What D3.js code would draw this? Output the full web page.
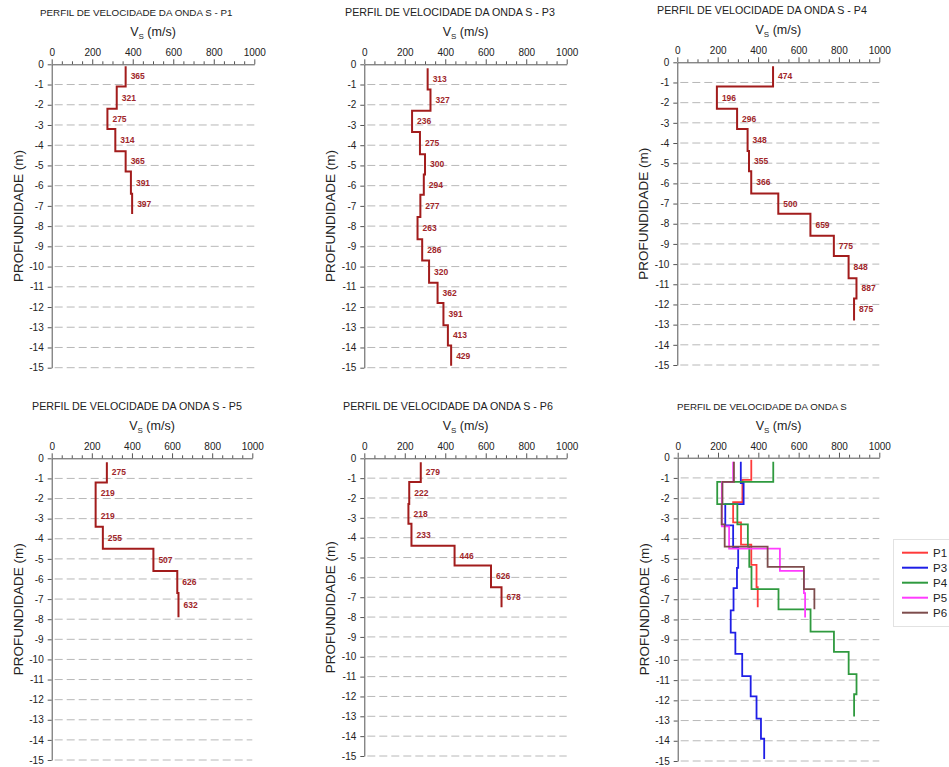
<!DOCTYPE html>
<html>
<head>
<meta charset="utf-8">
<script src="https://cdn.jsdelivr.net/npm/d3@7"></script>
<style>
  body { margin: 0; background: #fff; }
  svg { font-family: "Liberation Sans", Arial, sans-serif; }
</style>
</head>
<body>
<div id="chart"></div>
<script>
// profile data: layer boundaries (m, positive down) and Vs (m/s) per layer
var depthP1 = [0.1, 1.1, 2.2, 3.2, 4.3, 5.3, 6.4, 7.4];
var vsP1 = [365, 321, 275, 314, 365, 391, 397];

var depthP3 = [0.2, 1.25, 2.3, 3.35, 4.45, 5.45, 6.45, 7.55, 8.65, 9.7, 10.8, 11.8, 12.9, 13.9, 14.9];
var vsP3 = [313, 327, 236, 275, 300, 294, 277, 263, 286, 320, 362, 391, 413, 429];

var depthP4 = [0.2, 1.2, 2.3, 3.3, 4.4, 5.4, 6.5, 7.5, 8.6, 9.6, 10.7, 11.7, 12.8];
var vsP4 = [474, 196, 296, 348, 355, 366, 500, 659, 775, 848, 887, 875];

var depthP5 = [0.2, 1.2, 2.3, 3.4, 4.5, 5.6, 6.7, 7.9];
var vsP5 = [275, 219, 219, 255, 507, 626, 632];

var depthP6 = [0.2, 1.2, 2.3, 3.3, 4.4, 5.4, 6.5, 7.5];
var vsP6 = [279, 222, 218, 233, 446, 626, 678];

var profileNames = ["P1", "P3", "P4", "P5", "P6"];
var xTicks = [0, 200, 400, 600, 800, 1000];
var depthTicks = d3.range(0, 16);

var profiles = {
  P1: { depth: depthP1, vs: vsP1 },
  P3: { depth: depthP3, vs: vsP3 },
  P4: { depth: depthP4, vs: vsP4 },
  P5: { depth: depthP5, vs: vsP5 },
  P6: { depth: depthP6, vs: vsP6 }
};

var comboColors = { P1: "#ff3a3a", P3: "#1e1ee6", P4: "#2f9a3f", P5: "#ff3cff", P6: "#7d4c4c" };

// panel layout
var panels = [
  { key: "P1", title: "PERFIL DE VELOCIDADE DA ONDA S - P1", tx: 40, fs: 9.8, x0: 51.7, x1: 254.3, y0: 64.3, y1: 367.7 },
  { key: "P3", title: "PERFIL DE VELOCIDADE DA ONDA S - P3", tx: 345, fs: 10.7, x0: 364.3, x1: 566.7, y0: 64.3, y1: 367.7 },
  { key: "P4", title: "PERFIL DE VELOCIDADE DA ONDA S - P4", tx: 657, fs: 10.7, x0: 677.3, x1: 879.3, y0: 62.3, y1: 365 },
  { key: "P5", title: "PERFIL DE VELOCIDADE DA ONDA S - P5", tx: 32, fs: 10.7, x0: 51.7, x1: 252.3, y0: 458.3, y1: 760 },
  { key: "P6", title: "PERFIL DE VELOCIDADE DA ONDA S - P6", tx: 343, fs: 10.7, x0: 364.3, x1: 566.7, y0: 458.3, y1: 756 },
  { key: "ALL", title: "PERFIL DE VELOCIDADE DA ONDA S", tx: 677, fs: 9.7, x0: 677.7, x1: 879.3, y0: 457.7, y1: 761 }
];

var svg = d3.select("#chart")
  .append("svg")
  .attr("width", 949)
  .attr("height", 767);

function stepPoints(p) {
  var pts = p.vs.map(function(v, i) { return [v, p.depth[i]]; });
  pts.push([p.vs[p.vs.length - 1], p.depth[p.depth.length - 1]]);
  return pts;
}

panels.forEach(function(pn) {
  var x = d3.scaleLinear().domain([0, 1000]).range([pn.x0, pn.x1]);
  var y = d3.scaleLinear().domain([0, 15]).range([pn.y0, pn.y1]);
  var g = svg.append("g");

  // dashed gridlines
  g.append("g").selectAll("line")
    .data(depthTicks.slice(1))
    .enter().append("line")
    .attr("x1", x(0) + 3)
    .attr("x2", x(1000))
    .attr("y1", d => y(d))
    .attr("y2", d => y(d))
    .attr("stroke", "#b8b8b8")
    .attr("stroke-width", 1)
    .attr("stroke-dasharray", "8,4");

  // top axis, major + minor ticks
  g.append("g")
    .attr("transform", `translate(0, ${pn.y0})`)
    .call(d3.axisTop(x).tickValues(xTicks).tickSize(5).tickSizeOuter(0).tickPadding(3)
      .tickFormat(d3.format("d")));
  g.append("g")
    .attr("transform", `translate(0, ${pn.y0})`)
    .call(d3.axisTop(x).tickValues(d3.range(0, 1001, 50).filter(d => d % 200)).tickSize(3).tickFormat(""))
    .select(".domain").remove();

  g.append("g")
    .attr("transform", `translate(${pn.x0}, 0)`)
    .call(d3.axisLeft(y).tickValues(depthTicks).tickSize(4).tickSizeOuter(0).tickPadding(4)
      .tickFormat(d => d ? "-" + d : "0"));

  g.selectAll(".domain").attr("stroke", "#555");
  g.selectAll(".tick line").attr("stroke", "#555");
  g.selectAll(".tick text").attr("font-size", 10).attr("fill", "#222")
    .attr("font-family", "Liberation Sans, Arial, sans-serif");

  // titles
  g.append("text")
    .attr("x", pn.tx)
    .attr("y", pn.y0 - 48)
    .attr("font-size", pn.fs)
    .attr("fill", "#222")
    .text(pn.title);

  var vsLabel = g.append("text")
    .attr("x", (pn.x0 + pn.x1) / 2)
    .attr("y", pn.y0 - 28)
    .attr("text-anchor", "middle")
    .attr("font-size", 12.5)
    .attr("fill", "#222");
  vsLabel.append("tspan").text("V");
  vsLabel.append("tspan").attr("font-size", 8).attr("dy", 3).text("S");
  vsLabel.append("tspan").attr("dy", -3).text(" (m/s)");

  g.append("text")
    .attr("transform", `translate(${pn.x0 - 29}, ${(pn.y0 + pn.y1) / 2}) rotate(-90)`)
    .attr("text-anchor", "middle")
    .attr("font-size", 13.5)
    .attr("fill", "#222")
    .text("PROFUNDIDADE (m)");

  var line = d3.line()
    .x(d => x(d[0]))
    .y(d => y(d[1]))
    .curve(d3.curveStepBefore);

  if (pn.key !== "ALL") {
    var p = profiles[pn.key];
    g.append("path")
      .datum(stepPoints(p))
      .attr("d", line)
      .attr("fill", "none")
      .attr("stroke", "#a21c1c")
      .attr("stroke-width", 2);

    g.append("g").selectAll("text")
      .data(p.vs)
      .enter().append("text")
      .attr("x", d => x(d) + 5)
      .attr("y", (d, i) => y((p.depth[i] + p.depth[i + 1]) / 2))
      .attr("dy", "0.35em")
      .attr("font-size", 8.5)
      .attr("font-weight", "bold")
      .attr("fill", "#a0262a")
      .text(d => d);
  } else {
    profileNames.forEach(function(k) {
      g.append("path")
        .datum(stepPoints(profiles[k]))
        .attr("d", line)
        .attr("fill", "none")
        .attr("stroke", comboColors[k])
        .attr("stroke-width", 1.8);
    });

    // legend
    var lg = svg.append("g");
    lg.append("rect")
      .attr("x", 893.5).attr("y", 539.5)
      .attr("width", 60).attr("height", 87)
      .attr("fill", "#fff")
      .attr("stroke", "#e2e2e2");
    profileNames.forEach(function(k, i) {
      var ly = 552.7 + i * 15;
      lg.append("line")
        .attr("x1", 902).attr("x2", 928)
        .attr("y1", ly).attr("y2", ly)
        .attr("stroke", comboColors[k])
        .attr("stroke-width", 2);
      lg.append("text")
        .attr("x", 933).attr("y", ly)
        .attr("dy", "0.35em")
        .attr("font-size", 11.5)
        .attr("fill", "#222")
        .text(k);
    });
  }
});
</script>
</body>
</html>
